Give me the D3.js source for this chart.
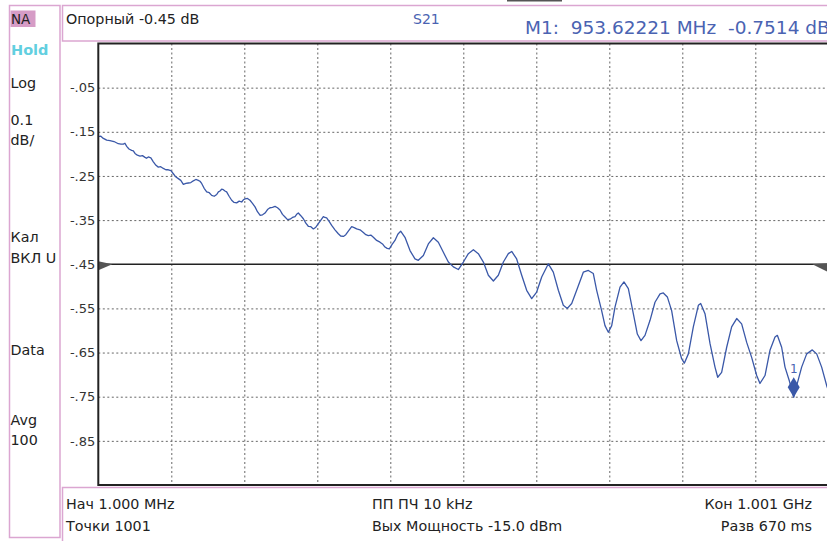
<!DOCTYPE html>
<html>
<head>
<meta charset="utf-8">
<script src="https://cdn.jsdelivr.net/npm/d3@7"></script>
<style>
  html, body { margin: 0; padding: 0; background: #fff; }
  svg { display: block; }
  text { font-family: "DejaVu Sans", Verdana, sans-serif; white-space: pre; }
</style>
</head>
<body>
<svg id="chart" width="827" height="541"></svg>
<script>
// Sweep settings
const sweepStartMHz = 1;
const sweepStopMHz = 1001;
const refLevelDb = -0.45;
const scaleTopDb = 0.05;
const scaleBottomDb = -0.95;

// Grid and tick labels
const freqGridMHz = [101, 201, 301, 401, 501, 601, 701, 801, 901];
const dbTickValues = [-0.05, -0.15, -0.25, -0.35, -0.45, -0.55, -0.65, -0.75, -0.85];
const dbTickLabels = ["-.05", "-.15", "-.25", "-.35", "-.45", "-.55", "-.65", "-.75", "-.85"];

// S21 trace: frequency (MHz) and magnitude (dB)
const traceMHz = [1, 4.5, 7.9, 12.5, 17, 22.5, 28.4, 32, 35.3, 37.5, 39.9, 43, 46.7, 49, 51.3, 54.5,
  58.1, 61.5, 65, 67, 69.5, 73, 76.4, 80, 83.2, 86.5, 90.1, 93.5, 96.9, 100.5, 103.8, 107, 110.6, 114,
  117.5, 121, 124.3, 127.8, 131.2, 134.6, 138, 140.3, 142.6, 146, 149.5, 153, 156.3, 159.8, 163.2,
  165.5, 167.7, 170, 172.3, 174.5, 176.8, 180.2, 183.7, 187, 190.5, 194, 197.4, 199.7, 202, 205.4,
  208.8, 212.2, 215.7, 219, 222.5, 226, 229.4, 232.8, 236.2, 239.6, 243.1, 246.5, 249.9, 253.3,
  256.8, 260.2, 263.6, 267, 270.5, 272.7, 275, 278.4, 281.9, 285.3, 288.7, 292.2, 295.6, 299, 302.4,
  305.9, 309.3, 311.5, 313.8, 317.2, 320.7, 325.2, 329.8, 333, 336.7, 340, 343.5, 348.1, 351.5,
  354.9, 359.5, 364.1, 367.5, 370.9, 374.3, 377.8, 382.3, 386.9, 390.3, 393.7, 396.7, 399.7, 403.5,
  407.4, 411.3, 415.2, 421.1, 428, 434.8, 439.4, 446.3, 453.1, 460, 466.8,
  473.7, 480.5, 487.4, 494.2, 501.1, 507.9, 514.8, 521.6, 528.5, 535.3, 542.2, 549, 555.9, 562.7,
  567.3, 574.1, 581, 587.8, 594.7, 601.5, 608.4, 617.5, 624.3, 631.2, 638, 643.5, 649.5, 656.3,
  665.4, 672.3, 679.1, 683.7, 690.5, 695.1, 699.7, 704.3, 708.8, 715.7, 721.1, 727.1, 733.9, 739.4,
  744.4, 749.9, 756.8, 763.6, 770.5, 775, 780.5, 786.4, 793.3, 800.1, 803.8, 809.3, 816.1, 823,
  826.2, 832.1, 839, 845.8, 849.5, 854.9, 861.8, 868.6, 875.5, 882.3, 889.2, 896, 902.9, 907.4,
  914.3, 921.1, 928, 931.2, 937.1, 941.7, 947.6, 953.62221, 957.7, 964.5, 971.4, 979.1, 985.1,
  991.9, 998.8, 1001];
const traceDb = [-0.161, -0.160, -0.165, -0.169, -0.170, -0.172, -0.177, -0.178, -0.178, -0.176, -0.183,
  -0.189, -0.192, -0.193, -0.199, -0.203, -0.205, -0.204, -0.208, -0.210, -0.207, -0.209, -0.218,
  -0.226, -0.230, -0.229, -0.233, -0.236, -0.236, -0.238, -0.245, -0.252, -0.256, -0.260, -0.269,
  -0.267, -0.266, -0.265, -0.261, -0.258, -0.260, -0.262, -0.267, -0.278, -0.286, -0.288, -0.294,
  -0.296, -0.292, -0.286, -0.284, -0.280, -0.281, -0.284, -0.286, -0.296, -0.305, -0.310, -0.311,
  -0.307, -0.309, -0.304, -0.302, -0.301, -0.305, -0.312, -0.320, -0.331, -0.339, -0.338, -0.334,
  -0.326, -0.322, -0.321, -0.319, -0.322, -0.327, -0.337, -0.343, -0.349, -0.348, -0.344, -0.342,
  -0.337, -0.334, -0.340, -0.347, -0.357, -0.364, -0.365, -0.370, -0.366, -0.358, -0.350, -0.342,
  -0.344, -0.345, -0.353, -0.362, -0.372, -0.381, -0.386, -0.387, -0.383, -0.375, -0.365, -0.367,
  -0.370, -0.372, -0.378, -0.383, -0.385, -0.384, -0.389, -0.396, -0.400, -0.404, -0.411, -0.414,
  -0.415, -0.405, -0.396, -0.382, -0.375, -0.389, -0.419, -0.438, -0.441, -0.430, -0.404, -0.390,
  -0.400, -0.423, -0.445, -0.456, -0.462, -0.445, -0.426, -0.417, -0.426, -0.445, -0.475, -0.488,
  -0.475, -0.445, -0.426, -0.421, -0.438, -0.475, -0.509, -0.528, -0.513, -0.479, -0.449, -0.468,
  -0.509, -0.543, -0.550, -0.539, -0.509, -0.468, -0.464, -0.471, -0.509, -0.555, -0.589, -0.604,
  -0.589, -0.547, -0.502, -0.490, -0.505, -0.562, -0.608, -0.623, -0.611, -0.577, -0.536, -0.517,
  -0.515, -0.524, -0.555, -0.623, -0.664, -0.674, -0.653, -0.592, -0.543, -0.539, -0.562, -0.630,
  -0.683, -0.706, -0.695, -0.638, -0.592, -0.573, -0.585, -0.627, -0.661, -0.702, -0.720, -0.702,
  -0.645, -0.615, -0.611, -0.638, -0.683, -0.714, -0.7514, -0.725, -0.683, -0.653, -0.644, -0.653,
  -0.683, -0.725, -0.735];

// Marker 1
const markerMHz = 953.62221;
const markerDb = -0.7514;

// Annotation texts
const sidePanelLabels = ["Log", "0.1", "dB/", "Кал", "ВКЛ U", "Data", "Avg", "100"];
const refText = "Опорный -0.45 dB";
const paramText = "S21";
const markerText = "M1:  953.62221 MHz  -0.7514 dB";
const footerLeft = ["Нач 1.000 MHz", "Точки 1001"];
const footerMid = ["ПП ПЧ 10 kHz", "Вых Мощность -15.0 dBm"];
const footerRight = ["Кон 1.001 GHz", "Разв 670 ms"];

const svg = d3.select("#chart");
const pink = "#dba6d1";
const traceBlue = "#3a58a8";
const textBlue = "#4a63b2";
const FS = 14.3;

const plot = { left: 98.3, right: 828.3, top: 43.5, bottom: 485 };
const x = d3.scaleLinear().domain([sweepStartMHz, sweepStopMHz]).range([plot.left, plot.right]);
const y = d3.scaleLinear().domain([scaleTopDb, scaleBottomDb]).range([plot.top, plot.bottom]);

// Window strip at the very top
svg.append("rect").attr("x", 507).attr("y", 0).attr("width", 55).attr("height", 1.5).attr("fill", "#555");

// Side panel
svg.append("rect").attr("x", 9.5).attr("y", 5.5).attr("width", 50.5).attr("height", 532)
  .attr("fill", "none").attr("stroke", pink).attr("stroke-width", 1.5);
svg.append("rect").attr("x", 10.5).attr("y", 10.5).attr("width", 25).attr("height", 16.5).attr("fill", "#d69cc6");
svg.append("text").attr("x", 11).attr("y", 24).attr("font-size", 13.5).attr("fill", "#222").text("NA");
svg.append("text").attr("x", 11).attr("y", 55).attr("font-size", 14.5).attr("font-weight", "bold")
  .attr("fill", "#62cfe0").text("Hold");
const sideY = [88, 125, 145, 242, 263, 355, 425, 445];
svg.append("g").selectAll("text").data(sidePanelLabels).join("text")
  .attr("x", 10.5).attr("y", (d, i) => sideY[i]).attr("font-size", FS).attr("fill", "#222").text(d => d);

// Header box
svg.append("rect").attr("x", 62.5).attr("y", 5.5).attr("width", 780).attr("height", 35.5)
  .attr("fill", "none").attr("stroke", pink).attr("stroke-width", 1.5);
svg.append("text").attr("x", 66).attr("y", 24).attr("font-size", FS).attr("fill", "#222").text(refText);
svg.append("text").attr("x", 413).attr("y", 24).attr("font-size", 14).attr("fill", textBlue).text(paramText);
svg.append("text").attr("x", 525).attr("y", 34).attr("font-size", 18.5).attr("fill", textBlue).text(markerText);

// Footer box
svg.append("rect").attr("x", 62.5).attr("y", 487.5).attr("width", 780).attr("height", 60)
  .attr("fill", "none").attr("stroke", pink).attr("stroke-width", 1.5);
const footY = [509, 531];
svg.append("g").selectAll("text").data(footerLeft).join("text")
  .attr("x", 66).attr("y", (d, i) => footY[i]).attr("font-size", FS).attr("fill", "#222").text(d => d);
svg.append("g").selectAll("text").data(footerMid).join("text")
  .attr("x", 372).attr("y", (d, i) => footY[i]).attr("font-size", FS).attr("fill", "#222").text(d => d);
svg.append("g").selectAll("text").data(footerRight).join("text")
  .attr("x", 812).attr("y", (d, i) => footY[i]).attr("text-anchor", "end").attr("font-size", FS)
  .attr("fill", "#222").text(d => d);

// Grid
const height = plot.bottom - plot.top;
const width = plot.right - plot.left;
const vGrid = svg.append("g").attr("transform", `translate(0,${plot.top})`)
  .call(d3.axisTop(x).tickValues(freqGridMHz).tickSize(-height).tickFormat(""));
vGrid.select(".domain").remove();
vGrid.selectAll("line").attr("stroke", "#666").attr("stroke-dasharray", "2,2.5");

const hGrid = svg.append("g").attr("transform", `translate(${plot.left},0)`)
  .call(d3.axisLeft(y).tickValues(dbTickValues.filter(v => v !== refLevelDb)).tickSize(-width).tickFormat(""));
hGrid.select(".domain").remove();
hGrid.selectAll("line").attr("stroke", "#666").attr("stroke-dasharray", "2,2.5");

// Scale labels
const yAxis = svg.append("g").attr("transform", `translate(${plot.left - 2},0)`)
  .call(d3.axisLeft(y).tickValues(dbTickValues).tickSize(0).tickPadding(1)
    .tickFormat((d, i) => dbTickLabels[i]));
yAxis.select(".domain").remove();
yAxis.selectAll("text").attr("font-size", 13).attr("fill", "#333")
  .style("font-family", '"DejaVu Sans", Verdana, sans-serif');

// Reference line with end arrows
svg.append("line").attr("x1", plot.left).attr("x2", plot.right)
  .attr("y1", y(refLevelDb)).attr("y2", y(refLevelDb)).attr("stroke", "#222").attr("stroke-width", 1.5);
const ry = y(refLevelDb);
svg.append("path").attr("fill", "#555")
  .attr("d", `M${plot.left},${ry - 3}L${plot.left + 14},${ry}L${plot.left},${ry + 6}Z`);
svg.append("path").attr("fill", "#555")
  .attr("d", `M${plot.right},${ry - 1}L${plot.right - 16},${ry}L${plot.right},${ry + 8}Z`);

// Trace
const traceData = traceMHz.map((f, i) => [f, traceDb[i]]);
svg.append("path").datum(traceData)
  .attr("fill", "none").attr("stroke", traceBlue).attr("stroke-width", 1.3).attr("stroke-linejoin", "round")
  .attr("d", d3.line().x(d => x(d[0])).y(d => y(d[1])));

// Frame
svg.append("path").attr("fill", "none").attr("stroke", "#222").attr("stroke-width", 2)
  .attr("d", `M${plot.right + 5},${plot.top}H${plot.left}V${plot.bottom}H${plot.right + 5}`);

// Marker 1
const mx = x(markerMHz), my = y(markerDb);
svg.append("path").attr("fill", traceBlue)
  .attr("d", `M${mx},${my}L${mx - 6},${my - 10}L${mx},${my - 20}L${mx + 6},${my - 10}Z`);
svg.append("text").attr("x", mx).attr("y", my - 24).attr("text-anchor", "middle")
  .attr("font-size", 12).attr("fill", textBlue).text("1");
</script>
</body>
</html>
